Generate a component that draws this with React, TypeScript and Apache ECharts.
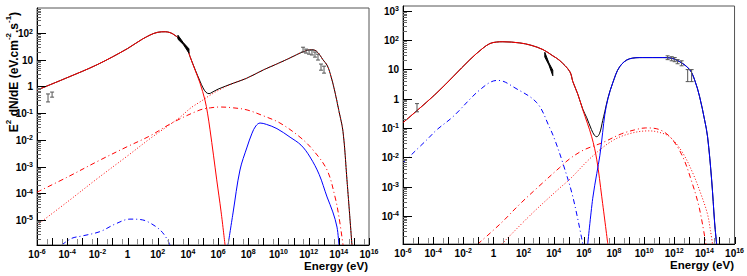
import React, { useEffect, useRef } from "react";
import * as echarts from "echarts";

// All values: [log10(E / eV), log10(E^2 dN/dE / eV cm^-2 s^-1)]
// ---------- left panel ----------
const totLeft: number[][] = [
  [-6, -0.135], [-4, 0.33], [-2, 0.82], [0, 1.42], [1, 1.78], [2, 2.03], [2.5, 2.05], [3, 1.97],
  [3.48, 1.75], [3.94, 1.43], [4.14, 1.12], [4.5, 0.6], [4.8, 0.2], [5.0, -0.05], [5.2, -0.22],
  [5.4, -0.27], [5.6, -0.22], [6.0, -0.1], [7.0, 0.12], [7.9, 0.31], [9.0, 0.62], [10.0, 0.87],
  [10.77, 1.07], [11.63, 1.3], [12.2, 1.38], [12.5, 1.33], [12.75, 1.17], [12.95, 1.0],
  [13.22, 0.8], [13.42, 0.5], [13.7, -0.1], [14.0, -0.9], [14.28, -1.7], [14.54, -3.5], [14.87, -5.94],
];
const synLeft: number[][] = [
  [-6, -0.135], [-4, 0.33], [-2, 0.82], [0, 1.42], [1, 1.78], [2, 2.03], [2.5, 2.05], [3, 1.97],
  [3.48, 1.75], [3.94, 1.43], [4.14, 1.12], [4.5, 0.58], [4.8, 0.13], [5.13, -0.51], [5.3, -1.0],
  [5.46, -1.6], [5.7, -2.6], [5.91, -3.5], [6.2, -4.7], [6.46, -5.94],
];
const icLeftDotted: number[][] = [
  [-6, -5.19], [-4, -4.33], [-2, -3.45], [0, -2.6], [1.5, -1.95], [2.5, -1.55], [3.48, -1.15],
  [4.2, -0.8], [4.8, -0.58], [5.46, -0.33], [6.0, -0.15], [7.0, 0.12], [7.9, 0.31], [9.0, 0.62],
  [10.0, 0.87], [10.77, 1.07], [11.63, 1.3], [12.2, 1.38], [12.5, 1.33], [12.75, 1.17], [12.95, 1.0],
  [13.22, 0.8], [13.42, 0.5], [13.7, -0.1], [14.0, -0.9], [14.28, -1.7], [14.54, -3.5], [14.87, -5.94],
];
const icLeftDashDot: number[][] = [
  [-6, -3.96], [-4, -3.4], [-1.83, -2.76], [0, -2.25], [1.49, -1.85], [3, -1.35], [4.8, -0.88],
  [5.5, -0.8], [6.13, -0.77], [7, -0.8], [7.92, -0.88], [9, -1.1], [10.1, -1.37], [11.43, -1.9],
  [12.29, -2.38], [13.22, -3.13], [13.75, -4.14], [14.01, -4.89], [14.28, -5.94],
];
const blueLeft: number[][] = [
  [6.66, -5.94], [6.99, -4.74], [7.45, -3.13], [7.92, -2.27], [8.25, -1.75], [8.5, -1.48],
  [8.78, -1.37], [9.2, -1.42], [9.9, -1.58], [10.77, -1.9], [11.5, -2.2], [12.09, -2.64],
  [12.7, -3.3], [13.22, -4.14], [13.6, -4.7], [13.88, -5.27], [14.01, -5.94],
];
const blueDashLeft: number[][] = [
  [-4.36, -5.94], [-3.7, -5.69], [-3, -5.6], [-1.83, -5.44], [-0.8, -5.15], [0.16, -4.97],
  [1, -5.0], [1.6, -5.15], [2.2, -5.4], [2.6, -5.7], [2.81, -5.94],
];
// error bars: [log10 E, log10 low, log10 high]
const pointsLeft: number[][] = [
  [-5.27, -0.58, -0.28], [-5.0, -0.4, -0.21],
  [11.63, 1.29, 1.47], [11.83, 1.25, 1.4], [12.03, 1.21, 1.36], [12.22, 1.18, 1.36],
  [12.42, 1.1, 1.29], [12.62, 0.99, 1.21], [12.82, 0.61, 0.84], [13.02, 0.5, 0.76],
];
const bflyLeftE = [3.34, 3.7, 4.07];
const bflyLeftLo = [1.77, 1.57, 1.25];
const bflyLeftHi = [1.92, 1.64, 1.41];

// ---------- right panel ----------
const synRight: number[][] = [
  [-6, -0.82], [-3.75, 0.2], [-1.56, 1.33], [-0.7, 1.72], [-0.23, 1.88], [0.2, 1.93], [0.63, 1.94],
  [1.75, 1.9], [2.5, 1.82], [3.3, 1.67], [3.94, 1.46], [4.4, 1.3], [5.07, 0.92], [5.27, 0.58],
  [5.6, 0.15], [5.93, -0.38], [6.52, -1.3], [6.86, -2.09], [7.19, -3.35], [7.59, -4.96],
];
const totRight: number[][] = [
  [-6, -0.82], [-3.75, 0.2], [-1.56, 1.33], [-0.7, 1.72], [-0.23, 1.88], [0.2, 1.93], [0.63, 1.94],
  [1.75, 1.9], [2.5, 1.82], [3.3, 1.67], [3.94, 1.46], [4.4, 1.3], [5.07, 0.92], [5.27, 0.58],
  [5.6, 0.15], [5.93, -0.36], [6.19, -0.65], [6.5, -1.05], [6.7, -1.25], [6.86, -1.3],
  [7.05, -1.18], [7.25, -0.75], [7.39, -0.45], [7.6, 0.02], [7.92, 0.54], [8.38, 1.09],
  [9.04, 1.36], [9.9, 1.4], [11.23, 1.4], [11.69, 1.39], [12.36, 1.26], [13.02, 0.99],
  [13.35, 0.64], [13.68, 0.07], [14.01, -0.72], [14.21, -1.3], [14.48, -2.77], [14.68, -4.24],
  [14.81, -4.96],
];
const blueRight: number[][] = [
  [6.26, -4.96], [6.59, -3.4], [6.86, -2.55], [7.06, -1.95], [7.25, -1.15], [7.39, -0.55],
  [7.6, 0.0], [7.92, 0.54], [8.38, 1.09], [9.04, 1.36], [9.9, 1.4], [11.23, 1.4], [11.69, 1.39],
  [12.36, 1.26], [13.02, 0.99], [13.35, 0.64], [13.68, 0.07], [14.01, -0.72], [14.21, -1.3],
  [14.48, -2.77], [14.68, -4.24], [14.81, -4.96],
];
const blueDashRight: number[][] = [
  [-6, -2.19], [-4.41, -1.4], [-3.75, -1.06], [-2.69, -0.62], [-0.9, 0.3], [0.23, 0.62],
  [0.6, 0.6], [1.29, 0.41], [2.88, -0.14], [3.74, -1.0], [4.07, -1.4], [4.6, -2.19],
  [5.27, -3.35], [5.93, -4.96],
];
const icRightDashDot: number[][] = [
  [-1.03, -4.96], [0.5, -4.25], [1.75, -3.6], [3, -3.0], [4.4, -2.35], [5.07, -2.05], [6, -1.75],
  [7.25, -1.5], [8.5, -1.2], [9.5, -1.05], [10.1, -1.0], [11.03, -1.06], [11.8, -1.35],
  [12.56, -1.98], [13.2, -2.9], [13.6, -3.6], [13.88, -4.3], [14.1, -4.96],
];
const icRightDotted: number[][] = [
  [0.56, -4.96], [2.5, -3.95], [4.4, -3.05], [5.07, -2.75], [6.5, -2.0], [7.85, -1.45], [9, -1.2],
  [10.3, -1.1], [11.0, -1.15], [11.69, -1.3], [12.5, -1.8], [13.22, -2.53], [13.8, -3.3],
  [14.21, -3.95], [14.4, -4.5], [14.54, -4.96],
];
const pointsRight: number[][] = [
  [-5.07, -0.45, -0.17],
  [11.56, 1.33, 1.46], [11.83, 1.29, 1.43], [12.03, 1.26, 1.4], [12.22, 1.19, 1.33],
  [12.49, 1.12, 1.29], [12.89, 0.58, 0.99], [13.15, 0.58, 0.99],
];
const bflyRightE = [3.41, 3.68, 3.94];
const bflyRightLo = [1.42, 1.15, 0.78];
const bflyRightHi = [1.58, 1.22, 0.97];

// ---------- axes ----------
const xRange = [-6, 16];
const xLabelVals = [-6, -4, -2, 0, 2, 4, 6, 8, 10, 12, 14, 16];
const yLeftRange = [-5.94, 2.94];
const yRightRange = [-4.96, 3.16];
const yLeftLabels = [-5, -4, -3, -2, -1, 0, 1, 2];
const yRightLabels = [-4, -3, -2, -1, 0, 1, 2, 3];

const FONT = "Liberation Sans";

function powLabel(v: number): string {
  if (v === 0) return "{b|1}";
  if (v === 1) return "{b|10}";
  return "{b|10}{s|" + v + "}";
}
const richLab = {
  b: { fontSize: 10, fontWeight: "bold", fontFamily: FONT, color: "#000", lineHeight: 11, verticalAlign: "bottom" },
  s: { fontSize: 7, fontWeight: "bold", fontFamily: FONT, color: "#000", lineHeight: 6, verticalAlign: "top" },
};

function range(a: number, b: number): number[] {
  const r: number[] = [];
  for (let i = a; i <= b; i++) r.push(i);
  return r;
}
function minorTicks(lo: number, hi: number): number[] {
  const out: number[] = [];
  for (let n = Math.floor(lo); n <= Math.ceil(hi); n++) {
    for (let k = 2; k <= 9; k++) {
      const v = n + Math.log10(k);
      if (v > lo && v < hi) out.push(v);
    }
  }
  return out;
}
const xDecades = range(-6, 16);
const xMid: number[] = range(-6, 15).map((n) => n + 0.65);

function labelAxis(kind: "x" | "y", gridIndex: number, rng: number[], values: number[]) {
  return {
    type: "value", gridIndex, min: rng[0], max: rng[1], position: kind === "x" ? "bottom" : "left",
    axisLine: { show: true, onZero: false, lineStyle: { color: "#000", width: 1 } },
    axisTick: { show: false },
    axisLabel: {
      show: true, customValues: values, margin: kind === "x" ? 3 : 4,
      formatter: (v: number) => powLabel(Math.round(v)),
      rich: richLab, showMinLabel: true, showMaxLabel: true, hideOverlap: false,
    },
    splitLine: { show: false },
  };
}

function lineSeries(data: number[][], axis: number, color: string, type: any, z: number) {
  return {
    type: "line", data, xAxisIndex: axis, yAxisIndex: axis, showSymbol: false, symbol: "none",
    smooth: 0.35, lineStyle: { color, width: 1, type }, z, silent: true, clip: true,
  };
}
function errSeries(data: number[][], axis: number) {
  return {
    type: "custom", xAxisIndex: axis, yAxisIndex: axis, z: 10, silent: true,
    data, encode: { x: 0, y: [1, 2] },
    renderItem: (_p: any, api: any) => {
      const x = api.value(0);
      const a = api.coord([x, api.value(1)]);
      const b = api.coord([x, api.value(2)]);
      const st = { stroke: "#555", lineWidth: 1, fill: "none" };
      return {
        type: "group",
        children: [
          { type: "line", shape: { x1: a[0], y1: a[1], x2: b[0], y2: b[1] }, style: st },
          { type: "line", shape: { x1: a[0] - 2, y1: a[1], x2: a[0] + 2, y2: a[1] }, style: st },
          { type: "line", shape: { x1: b[0] - 2, y1: b[1], x2: b[0] + 2, y2: b[1] }, style: st },
        ],
      };
    },
  };
}
function bflySeries(es: number[], lo: number[], hi: number[], axis: number) {
  return {
    type: "custom", xAxisIndex: axis, yAxisIndex: axis, z: 11, silent: true,
    data: [[es[0], lo[0]]],
    renderItem: (_p: any, api: any) => {
      const up = es.map((e, i) => api.coord([e, hi[i]]));
      const dn = es.map((e, i) => api.coord([e, lo[i]])).reverse();
      return { type: "polygon", shape: { points: up.concat(dn) }, style: { fill: "#000", stroke: "#000", lineWidth: 1 } };
    },
  };
}
// inward tick marks: one item placed inside the panel, drawing every tick through api.coord
function tickSeries(axis: number, yRng: number[], yLabels: number[]) {
  const yMinor = minorTicks(yRng[0], yRng[1]);
  return {
    type: "custom", xAxisIndex: axis, yAxisIndex: axis, silent: true, z: 50, clip: false,
    data: [[5, (yRng[0] + yRng[1]) / 2]],
    encode: { x: 0, y: 1 },
    renderItem: (_p: any, api: any) => {
      const children: any[] = [];
      const add = (x1: number, y1: number, x2: number, y2: number, color: string) =>
        children.push({ type: "polygon", shape: { points: [[x1, y1], [x2, y2], [x2 + (x1 === x2 ? 1 : 0), y2 + (y1 === y2 ? 1 : 0)], [x1 + (x1 === x2 ? 1 : 0), y1 + (y1 === y2 ? 1 : 0)]] }, style: { fill: color } });
      xDecades.forEach((v) => { const p = api.coord([v, yRng[0]]); const x = Math.round(p[0]); add(x, p[1], x, p[1] - 7, "#000"); });
      xMid.forEach((v) => { const p = api.coord([v, yRng[0]]); const x = Math.round(p[0]); add(x, p[1], x, p[1] - 6, "#888"); });
      yLabels.forEach((v) => { const p = api.coord([xRange[0], v]); const y = Math.round(p[1]); add(p[0], y, p[0] + 9, y, "#000"); });
      yMinor.forEach((v) => { const p = api.coord([xRange[0], v]); const y = Math.round(p[1]); add(p[0], y, p[0] + 4, y, "#666"); });
      return { type: "group", children };
    },
  };
}

const RED = "#ff0000";
const BLUE = "#0000ff";
const DOT: number[] = [1, 2];
const DASHDOT: number[] = [5, 3, 1, 3];
const L = 0; // axis index of left panel
const R = 1; // axis index of right panel

export default function App() {
  const ref = useRef<HTMLDivElement>(null);
  useEffect(() => {
    if (!ref.current) return;
    const chart = echarts.init(ref.current, undefined, { renderer: "svg" });
    const titleRich = {
      a: { fontSize: 12, fontWeight: "bold", fontFamily: FONT, fill: "#000", lineHeight: 15, verticalAlign: "bottom" },
      s: { fontSize: 8, fontWeight: "bold", fontFamily: FONT, fill: "#000", lineHeight: 8, verticalAlign: "top" },
    };
    chart.setOption({
      animation: false,
      backgroundColor: "#fff",
      grid: [
        { left: 37, top: 8, width: 332, height: 237, show: true, borderColor: "#555", borderWidth: 1, backgroundColor: "rgba(0,0,0,0)" },
        { left: 403, top: 6, width: 332, height: 238, show: true, borderColor: "#555", borderWidth: 1, backgroundColor: "rgba(0,0,0,0)" },
      ],
      xAxis: [labelAxis("x", 0, xRange, xLabelVals), labelAxis("x", 1, xRange, xLabelVals)],
      yAxis: [labelAxis("y", 0, yLeftRange, yLeftLabels), labelAxis("y", 1, yRightRange, yRightLabels)],
      series: [
        lineSeries(totLeft, L, "#000", "solid", 2),
        lineSeries(synLeft, L, RED, "solid", 3),
        lineSeries(icLeftDotted, L, RED, DOT, 3),
        lineSeries(icLeftDashDot, L, RED, DASHDOT, 3),
        lineSeries(blueLeft, L, BLUE, "solid", 3),
        lineSeries(blueDashLeft, L, BLUE, DASHDOT, 3),
        errSeries(pointsLeft, L),
        bflySeries(bflyLeftE, bflyLeftLo, bflyLeftHi, L),
        lineSeries(totRight, R, "#000", "solid", 2),
        lineSeries(synRight, R, RED, "solid", 3),
        lineSeries(icRightDotted, R, RED, DOT, 3),
        lineSeries(icRightDashDot, R, RED, DASHDOT, 3),
        lineSeries(blueRight, R, BLUE, "solid", 3),
        lineSeries(blueDashRight, R, BLUE, DASHDOT, 3),
        errSeries(pointsRight, R),
        bflySeries(bflyRightE, bflyRightLo, bflyRightHi, R),
        tickSeries(L, yLeftRange, yLeftLabels),
        tickSeries(R, yRightRange, yRightLabels),
      ],
      graphic: [
        {
          type: "text", x: 12, y: 72, rotation: Math.PI / 2, z: 20,
          style: {
            text: "{a|E}{s|2}{a| dN/dE (eV.cm}{s|-2}{a|.s}{s|-1}{a|)}",
            rich: titleRich, align: "center", verticalAlign: "middle",
          },
        },
        {
          type: "text", x: 368, y: 266, z: 20,
          style: { text: "Energy (eV)", font: "bold 11.5px 'Liberation Sans'", fill: "#000", align: "right", verticalAlign: "middle" },
        },
        {
          type: "text", x: 734, y: 265, z: 20,
          style: { text: "Energy (eV)", font: "bold 11.5px 'Liberation Sans'", fill: "#000", align: "right", verticalAlign: "middle" },
        },
      ],
    });
    return () => chart.dispose();
  }, []);
  return <div ref={ref} style={{ position: "absolute", left: 0, top: 0, width: 747, height: 276 }} />;
}
